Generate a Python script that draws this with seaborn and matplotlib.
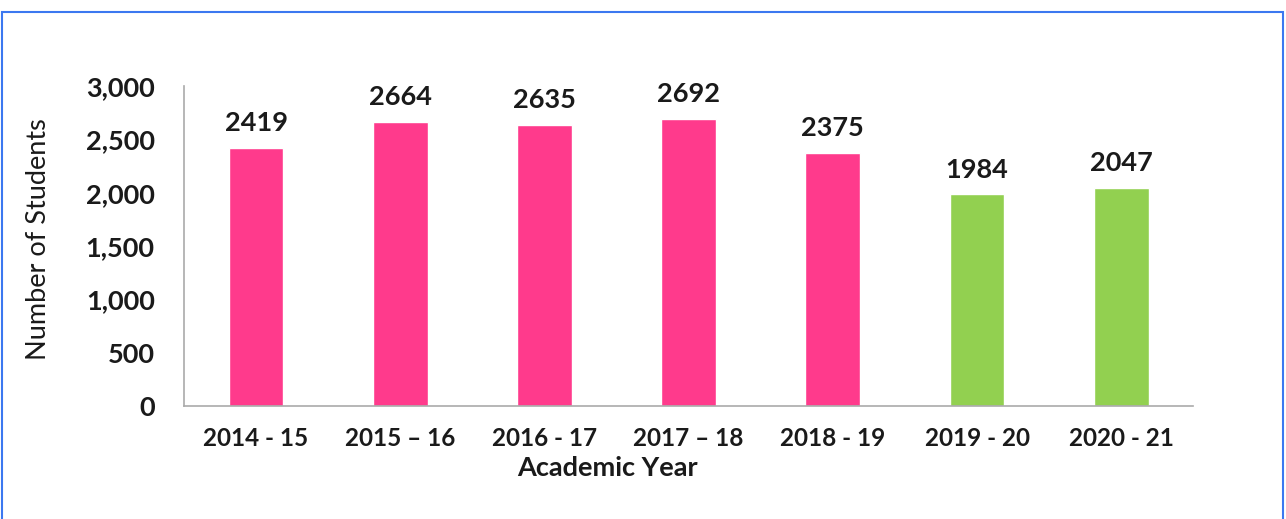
import seaborn as sns
import matplotlib.pyplot as plt
import pandas as pd
from matplotlib.patches import Rectangle

# Dados do gráfico
anos = ['2014 - 15', '2015 – 16', '2016 - 17', '2017 – 18', '2018 - 19', '2019 - 20', '2020 - 21']
alunos = [2419, 2664, 2635, 2692, 2375, 1984, 2047]
grupo = ['antes', 'antes', 'antes', 'antes', 'antes', 'depois', 'depois']
cores = {'antes': '#FF3A8C', 'depois': '#92D050'}

df = pd.DataFrame({'ano': anos, 'alunos': alunos, 'grupo': grupo})

sns.set_style('white')
plt.rcParams['font.family'] = ['Lato', 'DejaVu Sans']

fig = plt.figure(figsize=(12.86, 5.19), dpi=100)
ax = fig.add_axes([0.143, 0.2177, 0.785, 0.6166])

sns.barplot(data=df, x='ano', y='alunos', hue='grupo', palette=cores,
            width=0.38, dodge=False, legend=False, ax=ax, saturation=1)

for cont in ax.containers:
    ax.bar_label(cont, padding=9, fontsize=19.5, fontweight='bold', color='#1a1a1a')

ax.set_ylim(0, 3000)
ax.set_xlim(-0.5, len(anos) - 0.5)
ax.set_yticks(range(0, 3001, 500))
ax.set_yticklabels([f'{v:,}' for v in range(0, 3001, 500)], fontsize=19.5, fontweight='bold')
ax.set_xticks(range(len(anos)))
ax.set_xticklabels(anos, fontsize=17.5, fontweight='bold')
ax.set_xticks([i - 0.5 for i in range(len(anos) + 1)], minor=True)
ax.tick_params(axis='x', which='major', length=0, pad=15, colors='#1a1a1a')
ax.tick_params(axis='x', which='minor', length=7, width=1.2, color='#aaaaaa', direction='out')
ax.tick_params(axis='y', length=7, width=1.2, color='#aaaaaa', direction='out', pad=14, labelcolor='#1a1a1a')

for s in ['top', 'right']:
    ax.spines[s].set_visible(False)
for s in ['left', 'bottom']:
    ax.spines[s].set_color('#aaaaaa')
    ax.spines[s].set_linewidth(1.2)

ax.set_xlabel('Academic Year', fontsize=19.5, fontweight='bold', color='#1a1a1a')
ax.xaxis.set_label_coords(0.42, -0.155)
ax.set_ylabel('Number of Students', fontsize=19.5, color='#1a1a1a')
ax.yaxis.set_label_coords(-0.132, 0.52)

# moldura azul
fig.patches.append(Rectangle((2 / 1286, -0.02), 1281 / 1286, 1.02 - 12 / 519,
                             transform=fig.transFigure, fill=False,
                             edgecolor='#3C78F0', linewidth=1.5))

plt.savefig('out.png', dpi=100)
